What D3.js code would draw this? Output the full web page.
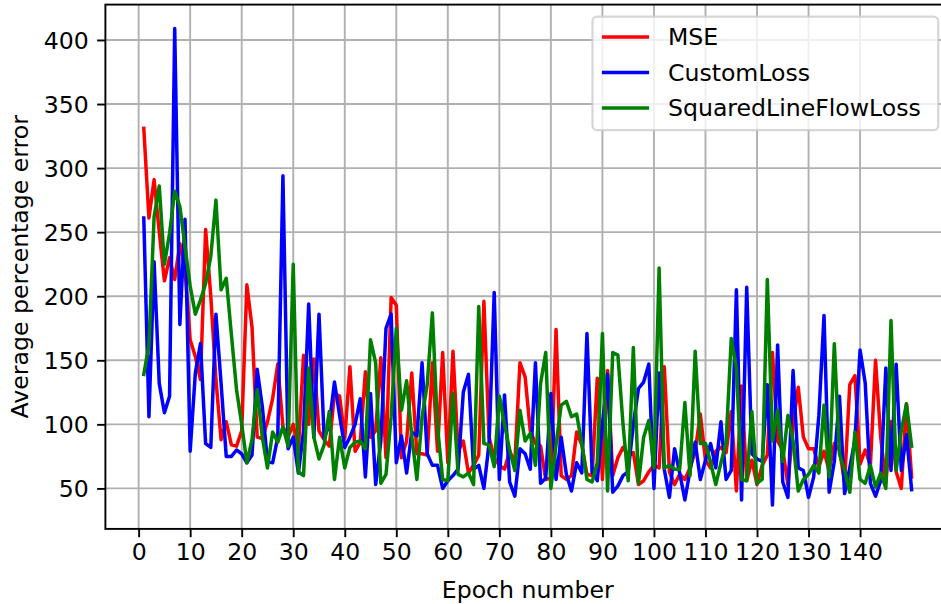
<!DOCTYPE html>
<html>
<head>
<meta charset="utf-8">
<script src="https://cdn.jsdelivr.net/npm/d3@7"></script>
<style>
  body { margin: 0; background: #ffffff; }
  svg { display: block; font-family: "DejaVu Sans", sans-serif; }
</style>
</head>
<body>
<div class="chart-container"></div>
<script>

// epochs 1..150
const epochs = d3.range(1, 151)

const mse = [
  331, 261, 291, 250, 212, 230, 213, 241, 221, 166,
  153, 135, 252, 200, 135, 88, 102, 84, 83, 95,
  209, 176, 90, 89, 102, 120, 147, 98, 90, 100,
  80, 154, 100, 151, 95, 88, 83, 124, 122, 89,
  145, 79, 86, 141, 90, 95, 152, 74, 199, 193,
  74, 87, 140, 77, 77, 76, 148, 79, 156, 70,
  157, 79, 87, 62, 68, 76, 196, 90, 74, 68,
  65, 79, 70, 148, 137, 95, 85, 83, 57, 58,
  174, 60, 57, 60, 94, 84, 61, 60, 136, 57,
  142, 60, 74, 82, 76, 78, 53, 56, 63, 68,
  66, 145, 63, 53, 61, 57, 66, 79, 108, 72,
  66, 79, 82, 78, 110, 48, 130, 56, 72, 53,
  68, 76, 156, 87, 80, 53, 100, 129, 90, 81,
  81, 67, 79, 64, 85, 80, 55, 131, 138, 69,
  80, 68, 150, 90, 54, 102, 63, 50, 116, 59
]

const customLoss = [
  261, 106, 227, 132, 109, 122, 409, 178, 260, 79,
  140, 163, 85, 82, 186, 132, 75, 75, 80, 77,
  70, 76, 143, 114, 71, 70, 90, 294, 81, 90,
  62, 95, 194, 90, 186, 89, 100, 133, 107, 82,
  90, 100, 120, 59, 124, 53, 87, 175, 186, 70,
  91, 62, 94, 91, 148, 77, 68, 68, 50, 56,
  60, 65, 125, 139, 65, 68, 50, 85, 203, 57,
  123, 55, 44, 81, 77, 65, 148, 54, 58, 124,
  57, 90, 61, 48, 70, 62, 171, 63, 56, 100,
  139, 47, 52, 60, 63, 100, 128, 133, 147, 50,
  140, 65, 43, 81, 62, 41, 64, 86, 57, 72,
  85, 66, 102, 57, 64, 205, 41, 207, 77, 73,
  71, 131, 37, 162, 55, 43, 142, 66, 64, 43,
  59, 107, 185, 47, 71, 122, 46, 66, 88, 158,
  132, 54, 44, 56, 144, 64, 147, 64, 92, 49
]

const squaredLineFlowLoss = [
  139, 162, 262, 286, 225, 249, 282, 270, 239, 208,
  186, 197, 210, 231, 275, 205, 214, 170, 127, 100,
  70, 88, 127, 90, 66, 94, 86, 98, 83, 225,
  63, 60, 144, 90, 73, 84, 110, 57, 90, 66,
  82, 86, 87, 81, 166, 148, 54, 61, 106, 175,
  111, 134, 91, 57, 106, 131, 187, 98, 57, 56,
  124, 61, 59, 62, 53, 192, 85, 84, 67, 122,
  100, 80, 64, 111, 87, 93, 68, 132, 156, 50,
  84, 115, 118, 106, 108, 85, 57, 55, 70, 171,
  48, 156, 154, 100, 56, 160, 54, 90, 103, 66,
  222, 66, 68, 65, 65, 117, 60, 157, 85, 85,
  70, 53, 70, 86, 167, 144, 57, 56, 110, 54,
  57, 213, 87, 111, 71, 107, 87, 48, 57, 61,
  68, 62, 115, 59, 163, 77, 64, 47, 94, 57,
  54, 68, 51, 62, 50, 181, 64, 95, 116, 83
]

const seriesNames = ['MSE', 'CustomLoss', 'SquaredLineFlowLoss']
const seriesColors = ['#ff0000', '#0000ff', '#008000']
const seriesValues = [mse, customLoss, squaredLineFlowLoss]

const xTicks = d3.range(0, 150, 10)
const yTicks = [50, 100, 150, 200, 250, 300, 350, 400]

const xLabel = 'Epoch number'
const yLabel = 'Average percentage error'

const width = 941
const height = 604
const fontSize = 23.6

// plot box (right edge falls just outside the picture, like the original)
const plotLeft = 105.4, plotRight = 950, plotTop = 4.6, plotBottom = 528.9

let x = d3.scaleLinear()
.domain([-6.45, 157.45])
.range([plotLeft, plotRight])

let y = d3.scaleLinear()
.domain([18.4, 427.6])
.range([plotBottom, plotTop])

const svg = d3.select('.chart-container')
.append('svg')
.attr('width', width)
.attr('height', height)
.style('overflow', 'hidden')

svg.append('defs')
.append('clipPath')
.attr('id', 'plot-clip')
.append('rect')
.attr('x', plotLeft)
.attr('y', plotTop)
.attr('width', plotRight - plotLeft)
.attr('height', plotBottom - plotTop)

// grid
const grid = svg.append('g')

grid.selectAll('.vgrid')
.data(xTicks)
.enter()
.append('line')
.attr('x1', d => x(d))
.attr('x2', d => x(d))
.attr('y1', plotTop)
.attr('y2', plotBottom)
.attr('stroke', '#b0b0b0')
.attr('stroke-width', 1.9)

grid.selectAll('.hgrid')
.data(yTicks)
.enter()
.append('line')
.attr('x1', plotLeft)
.attr('x2', plotRight)
.attr('y1', d => y(d))
.attr('y2', d => y(d))
.attr('stroke', '#b0b0b0')
.attr('stroke-width', 1.9)

// series
const lines = svg.append('g').attr('clip-path', 'url(#plot-clip)')

const line = d3.line()
.x((d, i) => x(epochs[i]))
.y(d => y(d))

seriesValues.forEach((values, k) => {

	lines.append('path')
	.datum(values)
	.attr('d', line)
	.attr('fill', 'none')
	.attr('stroke', seriesColors[k])
	.attr('stroke-width', 3.5)
	.attr('stroke-linejoin', 'round')
	.attr('stroke-linecap', 'square')
})

// frame
svg.append('rect')
.attr('x', plotLeft)
.attr('y', plotTop)
.attr('width', plotRight - plotLeft)
.attr('height', plotBottom - plotTop)
.attr('fill', 'none')
.attr('stroke', '#000000')
.attr('stroke-width', 1.9)

// axes
const xAxis = svg.append('g')
.attr('transform', `translate(0,${plotBottom})`)
.call(d3.axisBottom(x).tickValues(xTicks).tickSize(8.3).tickPadding(6).tickFormat(d3.format('d')))

const yAxis = svg.append('g')
.attr('transform', `translate(${plotLeft},0)`)
.call(d3.axisLeft(y).tickValues(yTicks).tickSize(8.3).tickPadding(8.3).tickFormat(d3.format('d')))

;[xAxis, yAxis].forEach(a => {
	a.select('.domain').remove()
	a.selectAll('.tick line').attr('stroke', '#000000').attr('stroke-width', 1.9)
	a.selectAll('.tick text')
	.attr('fill', '#000000')
	.style('font-size', fontSize + 'px')
	.style('font-family', '"DejaVu Sans", sans-serif')
})

yAxis.selectAll('.tick text').attr('dy', '0.36em')

// axis titles
svg.append('text')
.attr('x', (plotLeft + plotRight) / 2)
.attr('y', 598)
.attr('text-anchor', 'middle')
.style('font-size', fontSize + 'px')
.text(xLabel)

svg.append('text')
.attr('transform', `translate(27.5,${(plotTop + plotBottom) / 2}) rotate(-90)`)
.attr('text-anchor', 'middle')
.style('font-size', fontSize + 'px')
.text(yLabel)

// legend
const legend = svg.append('g')

const pad = 9.4, handleLen = 47.2, textPad = 18.9, rowGap = 35.5

const legendTexts = legend.selectAll('text')
.data(seriesNames)
.enter()
.append('text')
.style('font-size', fontSize + 'px')
.text(d => d)

let maxText = d3.max(legendTexts.nodes(), n => n.getComputedTextLength())

let legendW = pad + handleLen + textPad + maxText + pad + 8
let legendH = 113.5
let legendX = plotRight - 11.8 - legendW
let legendY = plotTop + 12

legend.insert('rect', 'text')
.attr('x', legendX)
.attr('y', legendY)
.attr('width', legendW)
.attr('height', legendH)
.attr('rx', 4.7)
.attr('fill', 'rgba(255,255,255,0.8)')
.attr('stroke', 'rgba(204,204,204,0.8)')
.attr('stroke-width', 2.2)

legendTexts
.attr('x', legendX + pad + handleLen + textPad)
.attr('y', (d, i) => legendY + 20.3 + i * rowGap)
.attr('dy', '0.36em')

legend.selectAll('line')
.data(seriesNames)
.enter()
.append('line')
.attr('x1', legendX + pad)
.attr('x2', legendX + pad + handleLen)
.attr('y1', (d, i) => legendY + 20.3 + i * rowGap)
.attr('y2', (d, i) => legendY + 20.3 + i * rowGap)
.attr('stroke', (d, i) => seriesColors[i])
.attr('stroke-width', 3.5)

</script>
</body>
</html>
